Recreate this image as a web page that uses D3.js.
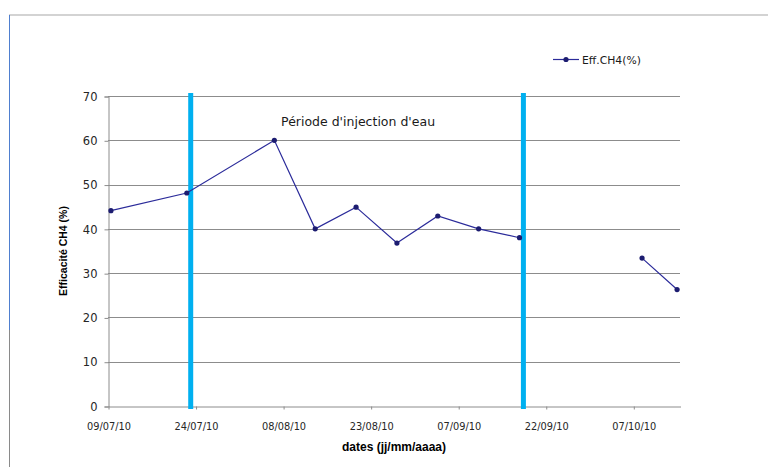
<!DOCTYPE html>
<html>
<head>
<meta charset="utf-8">
<script src="https://cdn.jsdelivr.net/npm/d3@7/dist/d3.min.js"></script>
<style>
  html, body { margin: 0; padding: 0; background: #fff; }
  svg { display: block; }
</style>
</head>
<body>
<svg id="chart" width="768" height="467"></svg>
<script>
// Weekly CH4 efficiency measurements (null = no measurement)
const dates = ["2010-07-09", "2010-07-22", "2010-08-06", "2010-08-13", "2010-08-20",
               "2010-08-27", "2010-09-03", "2010-09-10", "2010-09-17", "2010-09-24",
               "2010-10-01", "2010-10-08", "2010-10-14"];
const efficiency = [44.1, 48.1, 60.0, 40.0, 44.9, 36.8, 42.9, 40.0, 38.0, null, null, 33.4, 26.3];

// Water injection period boundaries
const injectionPeriod = ["2010-07-23", "2010-09-18"];
const injectionLabel = "Période d'injection d'eau";

// Axis ticks
const xTickDates = ["2010-07-09", "2010-07-24", "2010-08-08", "2010-08-23",
                    "2010-09-07", "2010-09-22", "2010-10-07"];
const yTicks = [0, 10, 20, 30, 40, 50, 60, 70];

const seriesName = "Eff.CH4(%)";
const yTitle = "Efficacité CH4 (%)";
const xTitle = "dates (jj/mm/aaaa)";

const parse = d3.utcParse("%Y-%m-%d");
const fmt = d3.utcFormat("%d/%m/%y");

const svg = d3.select("#chart");
const plotLeft = 108, plotRight = 680, plotTop = 96, plotBottom = 406;

// Date axis: one slot per day, points centred in their day
const x = d3.scaleUtc()
  .domain([parse("2010-07-09"), parse("2010-10-15")])
  .range([plotLeft, plotRight]);
const y = d3.scaleLinear().domain([0, 70]).range([plotBottom, plotTop]);
const halfDay = 12 * 3600 * 1000;
const px = d => x(new Date(d.getTime() + halfDay));

const data = dates.map((d, i) => ({ date: parse(d), value: efficiency[i] }));

// Outer frame edges
svg.append("line").attr("x1", 9).attr("x2", 768).attr("y1", 15).attr("y2", 15)
  .attr("stroke", "#c4c4c4").attr("stroke-width", 1.5);
svg.append("line").attr("x1", 9.5).attr("x2", 9.5).attr("y1", 15).attr("y2", 330)
  .attr("stroke", "#4f7fcf").attr("stroke-width", 1);
svg.append("line").attr("x1", 9.5).attr("x2", 9.5).attr("y1", 330).attr("y2", 467)
  .attr("stroke", "#8a8a8a").attr("stroke-width", 1);

// Horizontal gridlines
svg.append("g")
  .selectAll("line")
  .data(yTicks.filter(t => t > 0))
  .join("line")
  .attr("x1", plotLeft).attr("x2", plotRight)
  .attr("y1", d => Math.round(y(d)) + 0.5).attr("y2", d => Math.round(y(d)) + 0.5)
  .attr("stroke", "#8c8c8c").attr("stroke-width", 1);

// Y axis
const yAxis = svg.append("g")
  .attr("transform", `translate(${plotLeft + 0.5},0.5)`)
  .call(d3.axisLeft(y).tickValues(yTicks).tickSize(4).tickPadding(7).tickFormat(d3.format("d")));
yAxis.select(".domain").attr("stroke", "#8c8c8c");
yAxis.selectAll(".tick line").attr("stroke", "#8c8c8c");
yAxis.selectAll("text")
  .attr("font-family", "DejaVu Sans, sans-serif").attr("font-size", 11.5).attr("fill", "#262626");

// X axis
const xAxis = svg.append("g")
  .attr("transform", `translate(0.5,${plotBottom + 0.5})`)
  .call(d3.axisBottom(x).tickValues(xTickDates.map(parse)).tickSize(3).tickPadding(14)
    .tickFormat(fmt).tickSizeOuter(0));
xAxis.select(".domain").attr("stroke", "#8c8c8c");
xAxis.selectAll(".tick line").attr("stroke", "#8c8c8c");
xAxis.selectAll("text")
  .attr("font-family", "DejaVu Sans, sans-serif").attr("font-size", 9.8).attr("fill", "#262626");

// Injection period markers
svg.append("g")
  .selectAll("line")
  .data(injectionPeriod.map(parse))
  .join("line")
  .attr("x1", d => x(d) + 1).attr("x2", d => x(d) + 1)
  .attr("y1", y(70) - 3).attr("y2", y(0) + 3)
  .attr("stroke", "#00b0f0").attr("stroke-width", 5);

svg.append("text")
  .attr("x", (x(parse(injectionPeriod[0])) + x(parse(injectionPeriod[1]))) / 2 + 2)
  .attr("y", 126)
  .attr("text-anchor", "middle")
  .attr("font-family", "DejaVu Sans, sans-serif").attr("font-size", 12.5).attr("fill", "#1a1a1a")
  .text(injectionLabel);

// Series line with gaps for missing measurements
const line = d3.line()
  .defined(d => d.value !== null)
  .x(d => px(d.date))
  .y(d => y(d.value));

svg.append("path")
  .datum(data)
  .attr("d", line)
  .attr("fill", "none")
  .attr("stroke", "#2b2b9a")
  .attr("stroke-width", 1.2);

svg.append("g")
  .selectAll("circle")
  .data(data.filter(d => d.value !== null))
  .join("circle")
  .attr("cx", d => px(d.date))
  .attr("cy", d => y(d.value))
  .attr("r", 2.6)
  .attr("fill", "#1c1c70");

// Legend
const lg = svg.append("g").attr("transform", "translate(553,59.5)");
lg.append("line").attr("x1", 0).attr("x2", 26).attr("stroke", "#2b2b9a").attr("stroke-width", 1.2);
lg.append("circle").attr("cx", 13).attr("r", 2.6).attr("fill", "#1c1c70");
lg.append("text").attr("x", 29).attr("y", 4)
  .attr("font-family", "DejaVu Sans, sans-serif").attr("font-size", 10.8).attr("fill", "#1a1a1a")
  .text(seriesName);

// Axis titles
svg.append("text")
  .attr("transform", `translate(67,${(plotTop + plotBottom) / 2}) rotate(-90)`)
  .attr("text-anchor", "middle")
  .attr("font-family", "Liberation Sans, Arial, sans-serif").attr("font-weight", "bold")
  .attr("font-size", 10.5).attr("fill", "#000")
  .text(yTitle);

svg.append("text")
  .attr("x", (plotLeft + plotRight) / 2)
  .attr("y", 451)
  .attr("text-anchor", "middle")
  .attr("font-family", "Liberation Sans, Arial, sans-serif").attr("font-weight", "bold")
  .attr("font-size", 12).attr("fill", "#000")
  .text(xTitle);
</script>
</body>
</html>
